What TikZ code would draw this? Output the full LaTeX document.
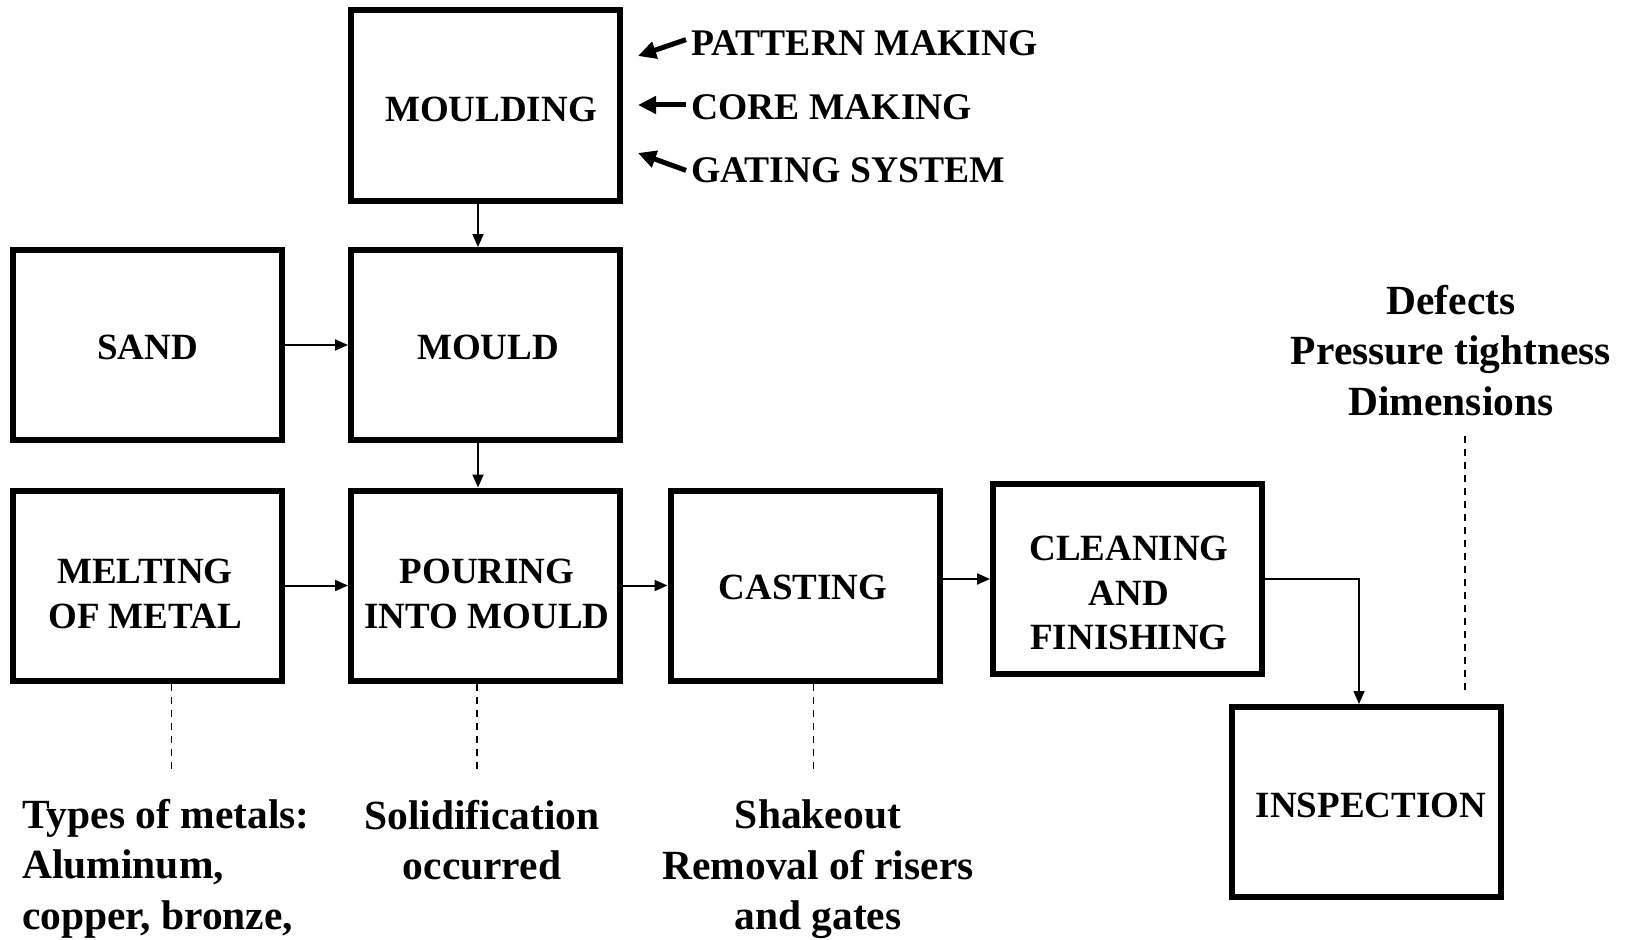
\documentclass[tikz,border=0pt]{standalone}
\usepackage{fontspec}
\setmainfont{Liberation Serif}
\usetikzlibrary{arrows.meta}
\begin{document}
\begin{tikzpicture}[x=1pt,y=-1pt,
  box/.style={draw, line width=6pt, minimum width=269pt, minimum height=190pt, inner sep=0pt},
  boxtext/.style={align=center, inner sep=0pt, font=\bfseries\fontsize{37}{44.5}\selectfont},
  side/.style={anchor=west, inner sep=0pt, font=\bfseries\fontsize{37.6}{44}\selectfont},
  note/.style={align=center, inner sep=0pt, font=\bfseries\fontsize{41.5}{50.5}\selectfont},
  flow/.style={-{Triangle[length=13pt,width=11pt]}, line width=2pt},
  feed/.style={-{Triangle[length=18pt,width=17pt]}, line width=5pt},
  guide/.style={line width=1.5pt, dash pattern=on 7pt off 6pt}]
\useasboundingbox (0,0) rectangle (1629,939);

% process boxes
\node[box] (moulding)   at (485.5,105.5) {};
\node[box] (sand)       at (147.5,345)   {};
\node[box] (mould)      at (485.5,345)   {};
\node[box] (melting)    at (147.5,585.5) {};
\node[box] (pouring)    at (485.5,585.5) {};
\node[box] (casting)    at (805,585.5)   {};
\node[box] (cleaning)   at (1127.5,579)  {};
\node[box] (inspection) at (1366.5,802)  {};

% box captions
\node[boxtext] (mouldingT)   at (491,109.5) {MOULDING};
\node[boxtext] (sandT)       at (147.5,347) {SAND};
\node[boxtext] (mouldT)      at (488,347)   {MOULD};
\node[boxtext] (meltingT)    at (145,594)   {MELTING\\OF METAL};
\node[boxtext] (pouringT)    at (487,594)   {POURING\\INTO MOULD};
\node[boxtext] (castingT)    at (803,587)   {CASTING};
\node[boxtext] (cleaningT)   at (1129,593)  {CLEANING\\AND\\FINISHING};
\node[boxtext] (inspectionT) at (1371,805)  {INSPECTION};

% inputs to moulding
\node[side] (pattern) at (691,43.6)  {PATTERN MAKING};
\node[side] (core)    at (691,107)   {CORE MAKING};
\node[side] (gating)  at (691,170.4) {GATING SYSTEM};
\coordinate (patternTip) at (638,56);
\coordinate (coreTip)    at (638,105);
\coordinate (gatingTip)  at (638,153);
\draw[feed] ([shift={(-5,-4)}]pattern.west) -- (patternTip);
\draw[feed] ([shift={(-5,-2)}]core.west) -- (coreTip);
\draw[feed] ([xshift=-5pt]gating.west) -- (gatingTip);

% main flow
\draw[flow] ([xshift=-7.5pt]moulding.south) -- ([xshift=-7.5pt]mould.north);
\draw[flow] (sand.east) -- (mould.west);
\draw[flow] ([xshift=-7.5pt]mould.south) -- ([xshift=-7.5pt]pouring.north);
\draw[flow] (melting.east) -- (pouring.west);
\draw[flow] (pouring.east) -- (casting.west);
\draw[flow] (casting.east |- cleaning.west) -- (cleaning.west);
\draw[flow, line width=1.5pt] (cleaning.east) -| ([xshift=-7.5pt]inspection.north);

% notes below the boxes
\node[note, align=left, anchor=west] (metals) at (22,868.5)
  {Types of metals:\\Aluminum,\\copper, bronze,};
\node[note] (solid) at (482,840) {Solidification\\occurred};
\node[note] (shake) at (818,869.5) {Shakeout\\Removal of risers\\and gates};
\node[note] (checks) at (1451,350.5) {Defects\\Pressure tightness\\Dimensions};

\coordinate (metalsEnd) at (171.5,774);
\coordinate (solidEnd)  at (477,774);
\coordinate (shakeEnd)  at (813.5,774);
\coordinate (checksEnd) at (1465,436);
\draw[guide] (melting.south -| metalsEnd) -- (metalsEnd);
\draw[guide] (pouring.south -| solidEnd) -- (solidEnd);
\draw[guide] (casting.south -| shakeEnd) -- (shakeEnd);
\draw[guide] (checksEnd) -- ([yshift=9pt]inspection.north -| checksEnd);
\end{tikzpicture}
\end{document}
